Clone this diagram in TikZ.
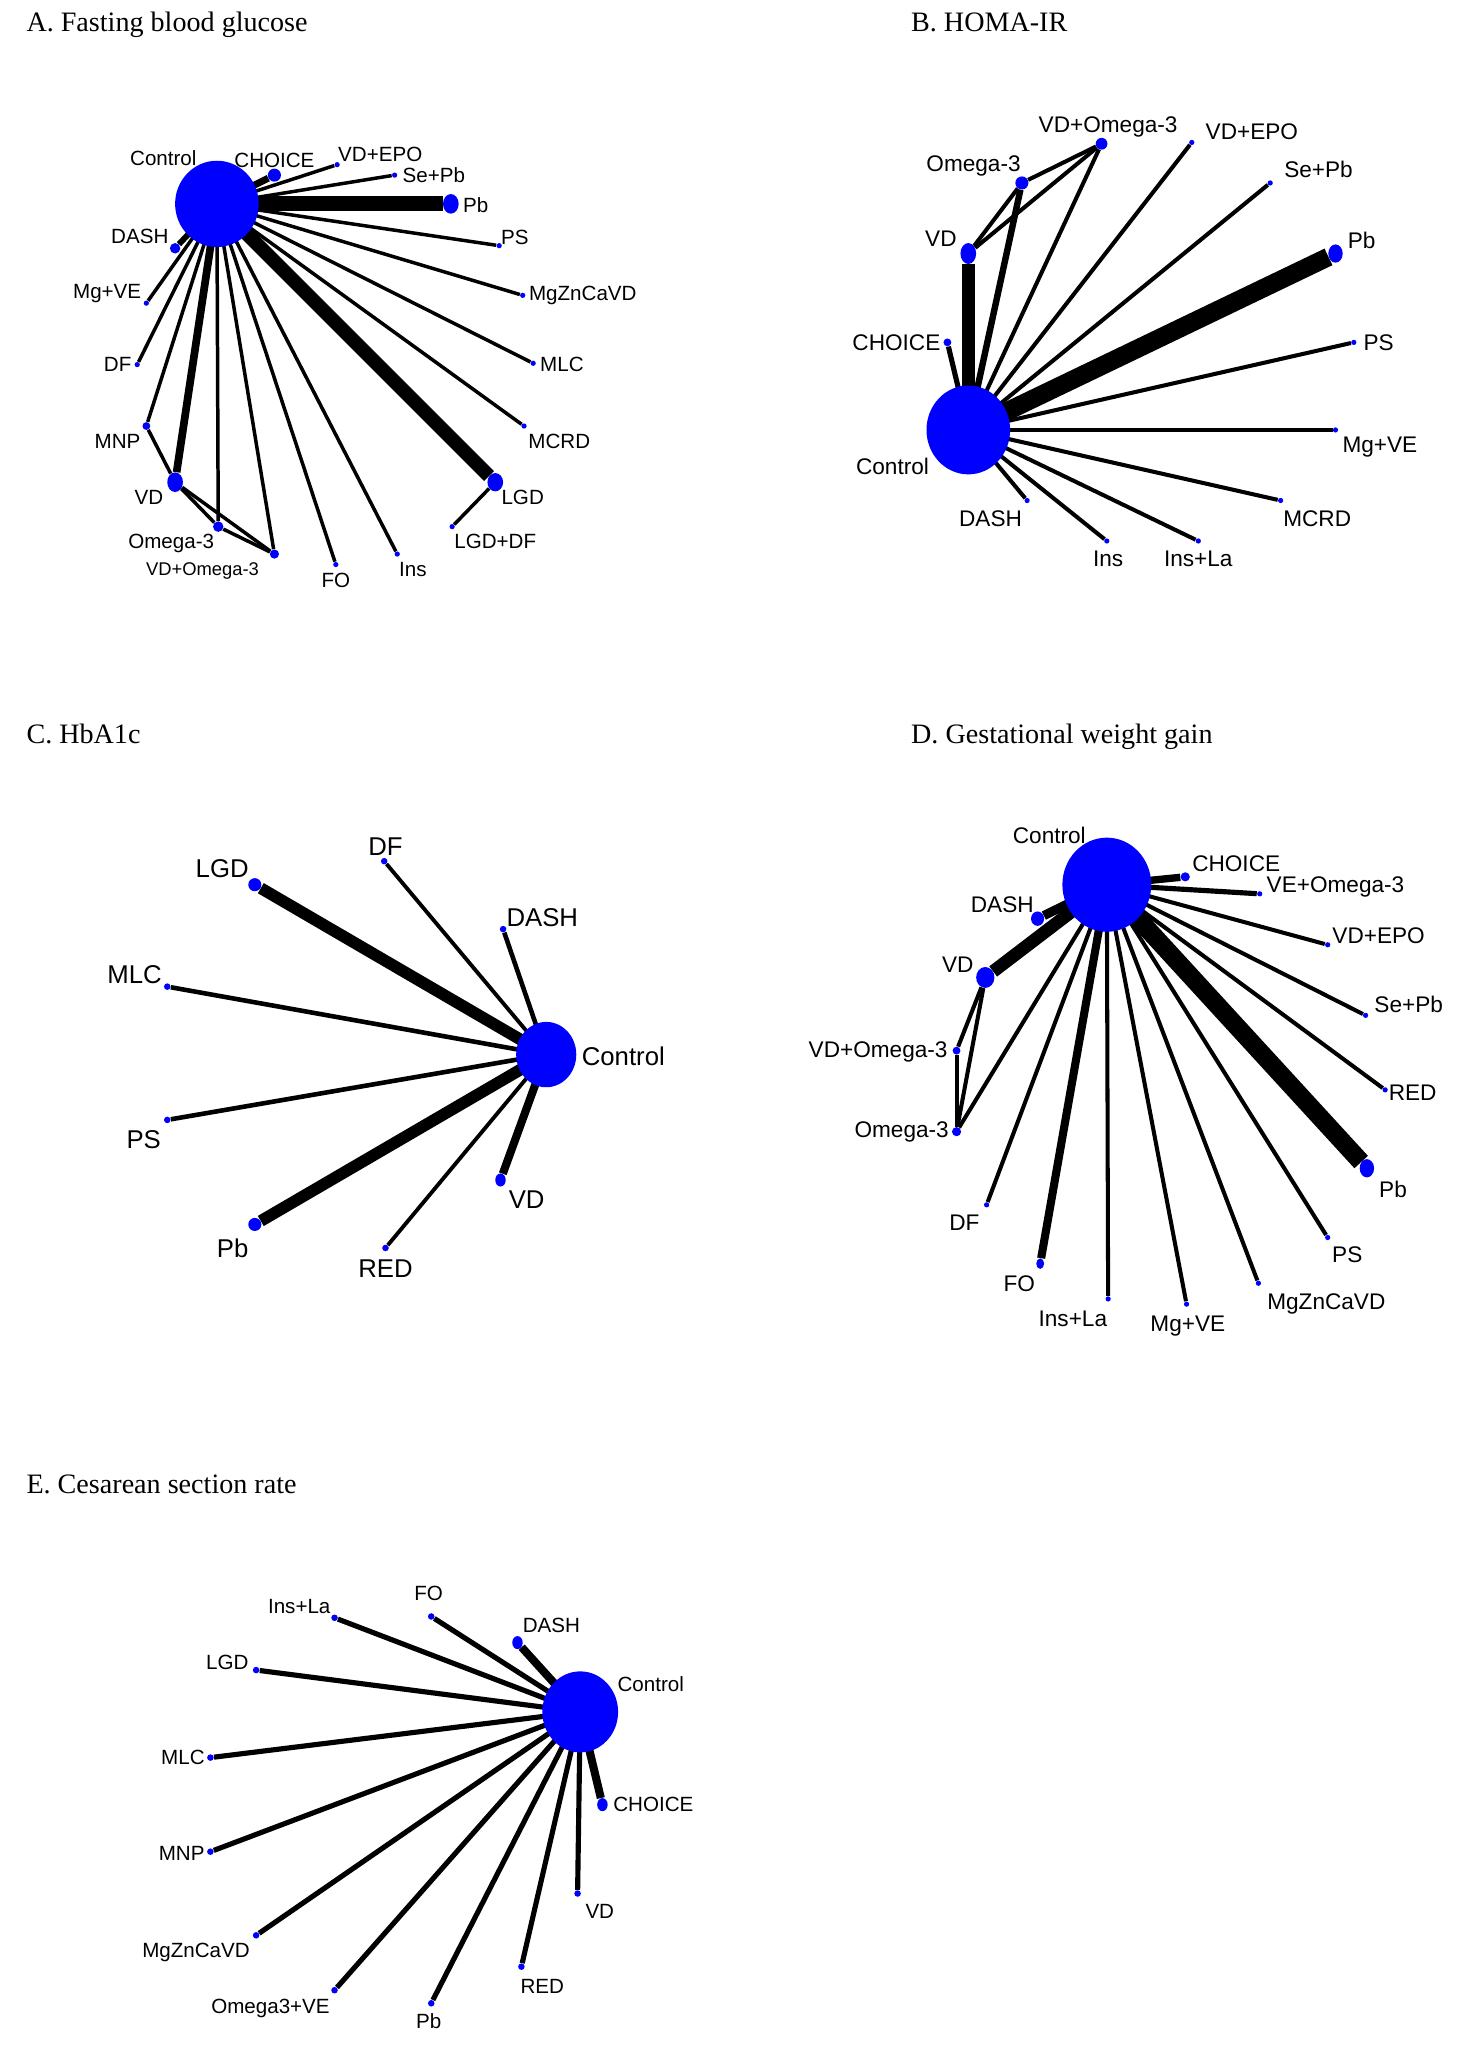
\documentclass[tikz,border=0pt]{standalone}
\usepackage{fontspec}
\setmainfont{Liberation Serif}
\newfontfamily\labfont{Liberation Sans}
\usetikzlibrary{shapes.geometric}
\definecolor{nb}{RGB}{0,0,255}
\tikzset{
  dot/.style={circle,fill=nb,draw=none,inner sep=0pt,minimum size=#1*0.025cm},
  big/.style 2 args={ellipse,fill=nb,draw=none,inner sep=0pt,minimum width=#1*0.025cm,minimum height=#2*0.025cm},
  ew/.style={line width=#1pt,draw=black},
  ttl/.style={font=\fontsize{15.3pt}{15.3pt}\selectfont,anchor=base west,inner sep=0pt},
  la/.style={font=\labfont\fontsize{11.2pt}{11.2pt}\selectfont,inner sep=0pt},
  lb/.style={font=\labfont\fontsize{12.3pt}{12.3pt}\selectfont,inner sep=0pt},
  lc/.style={font=\labfont\fontsize{14pt}{14pt}\selectfont,inner sep=0pt},
}
\begin{document}
\begin{tikzpicture}[x=0.025cm,y=-0.025cm]
\useasboundingbox (0,0) rectangle (1120,1568);
\fill[white] (0,0) rectangle (1120,1568);
% ---------------- Titles
\node[ttl] (tA) at (20,24) {A. Fasting blood glucose};
\node[ttl] (tB) at (697,24) {B. HOMA-IR};
\node[ttl] (tC) at (20,569) {C. HbA1c};
\node[ttl] (tD) at (697,569) {D. Gestational weight gain};
\node[ttl] (tE) at (20,1143) {E. Cesarean section rate};

% ================= Panel A
\coordinate (a0) at (166,156);
\node[dot=10] (a1) at (210,134) {};
\node[dot=4] (a2) at (258,126) {};
\node[dot=4] (a3) at (302,134) {};
\node[big={12}{15}] (a4) at (345,156) {};
\node[dot=4] (a5) at (382,188) {};
\node[dot=4] (a6) at (400,226) {};
\node[dot=4] (a7) at (408,278) {};
\node[dot=4] (a8) at (401,326) {};
\node[big={12}{14}] (a9) at (379,369) {};
\node[dot=4] (a10) at (346,403) {};
\node[dot=4] (a11) at (304,424) {};
\node[dot=4] (a12) at (257,432) {};
\node[dot=7] (a13) at (210,424) {};
\node[dot=8] (a14) at (167,403) {};
\node[big={12}{15}] (a15) at (134,369) {};
\node[dot=6] (a16) at (112,326) {};
\node[dot=4] (a17) at (105,279) {};
\node[dot=4] (a18) at (112,232) {};
\node[dot=8] (a19) at (134,190) {};
\draw[ew=3.8] (a0) -- (a1);
\draw[ew=1.9] (a0) -- (a2);
\draw[ew=1.9] (a0) -- (a3);
\draw[ew=8.2] (a0) -- (a4);
\draw[ew=1.9] (a0) -- (a5);
\draw[ew=1.9] (a0) -- (a6);
\draw[ew=1.9] (a0) -- (a7);
\draw[ew=1.9] (a0) -- (a8);
\draw[ew=7.6] (a0) -- (a9);
\draw[ew=1.9] (a9) -- (a10);
\draw[ew=1.9] (a0) -- (a11);
\draw[ew=1.9] (a0) -- (a12);
\draw[ew=1.9] (a0) -- (a13);
\draw[ew=1.9] (a0) -- (a14);
\draw[ew=4.2] (a0) -- (a15);
\draw[ew=1.9] (a0) -- (a16);
\draw[ew=1.9] (a16) -- (a15);
\draw[ew=1.9] (a15) -- (a14);
\draw[ew=1.9] (a15) -- (a13);
\draw[ew=1.9] (a14) -- (a13);
\draw[ew=1.9] (a0) -- (a17);
\draw[ew=1.9] (a0) -- (a18);
\draw[ew=3.2] (a0) -- (a19);
\node[big={64}{66}] (a0n) at (a0) {};
\node[la] (a0l) at (125,121) {Control};
\node[la] (a1l) at (210,123) {CHOICE};
\node[la] (a2l) at (291,118) {VD+EPO};
\node[la] (a3l) at (332,134) {Se+Pb};
\node[la] (a4l) at (364,157) {Pb};
\node[la] (a5l) at (394,182) {PS};
\node[la] (a6l) at (446,226) {MgZnCaVD};
\node[la] (a7l) at (430,279) {MLC};
\node[la] (a8l) at (428,338) {MCRD};
\node[la] (a9l) at (400,381) {LGD};
\node[la] (a10l) at (379,414) {LGD+DF};
\node[la] (a11l) at (316,436) {Ins};
\node[la] (a12l) at (257,444) {FO};
\node[la,font=\labfont\fontsize{10pt}{10pt}\selectfont] (a13l) at (155,437) {VD+Omega-3};
\node[la] (a14l) at (131,416) {Omega-3};
\node[la] (a15l) at (114,381) {VD};
\node[la] (a16l) at (90,338) {MNP};
\node[la] (a17l) at (90,279) {DF};
\node[la] (a18l) at (82,225) {Mg+VE};
\node[la] (a19l) at (107,181) {DASH};

% ================= Panel B
\coordinate (b0) at (741,329);
\node[big={12}{16}] (b1) at (741,194) {};
\node[dot=10] (b2) at (782,140) {};
\node[dot=9] (b3) at (843,110) {};
\node[dot=4] (b4) at (912,109) {};
\node[dot=4] (b5) at (972,140) {};
\node[big={11}{14}] (b6) at (1022,194) {};
\node[dot=6] (b7) at (725,262) {};
\node[dot=4] (b8) at (1036,262) {};
\node[dot=4] (b9) at (1022,329) {};
\node[dot=4] (b10) at (980,383) {};
\node[dot=4] (b11) at (917,414) {};
\node[dot=4] (b12) at (847,414) {};
\node[dot=4] (b13) at (786,383) {};
\draw[ew=7] (b0) -- (b1);
\draw[ew=3.5] (b0) -- (b2);
\draw[ew=2.2] (b0) -- (b3);
\draw[ew=2.2] (b1) -- (b2);
\draw[ew=2.2] (b1) -- (b3);
\draw[ew=2.2] (b2) -- (b3);
\draw[ew=2.2] (b0) -- (b4);
\draw[ew=2.2] (b0) -- (b5);
\draw[ew=10] (b0) -- (b6);
\draw[ew=2.8] (b0) -- (b7);
\draw[ew=2.2] (b0) -- (b8);
\draw[ew=2.2] (b0) -- (b9);
\draw[ew=2.2] (b0) -- (b10);
\draw[ew=2.2] (b0) -- (b11);
\draw[ew=2.2] (b0) -- (b12);
\draw[ew=2.2] (b0) -- (b13);
\node[big={64}{68}] (b0n) at (b0) {};
\node[lb] (b0l) at (683,357) {Control};
\node[lb] (b1l) at (720,183) {VD};
\node[lb] (b2l) at (745,127) {Omega-3};
\node[lb] (b3l) at (848,97) {VD+Omega-3};
\node[lb] (b4l) at (958,101) {VD+EPO};
\node[lb] (b5l) at (1009,130) {Se+Pb};
\node[lb] (b6l) at (1042,184) {Pb};
\node[lb] (b7l) at (686,262) {CHOICE};
\node[lb] (b8l) at (1055,262) {PS};
\node[lb] (b9l) at (1056,342) {Mg+VE};
\node[lb] (b10l) at (1008,397) {MCRD};
\node[lb] (b11l) at (917,428) {Ins+La};
\node[lb] (b12l) at (848,428) {Ins};
\node[lb] (b13l) at (758,397) {DASH};

% ================= Panel C
\coordinate (c0) at (418,807);
\node[dot=10] (c1) at (195,677) {};
\node[dot=5] (c2) at (294,659) {};
\node[dot=5] (c3) at (385,711) {};
\node[dot=5] (c4) at (128,755) {};
\node[dot=5] (c5) at (128,857) {};
\node[dot=10] (c6) at (195,937) {};
\node[dot=5] (c7) at (295,955) {};
\node[big={8}{10}] (c8) at (383,903) {};
\draw[ew=6.4] (c0) -- (c1);
\draw[ew=2.1] (c0) -- (c2);
\draw[ew=2.5] (c0) -- (c3);
\draw[ew=2.5] (c0) -- (c4);
\draw[ew=2.5] (c0) -- (c5);
\draw[ew=6.4] (c0) -- (c6);
\draw[ew=2.1] (c0) -- (c7);
\draw[ew=4.4] (c0) -- (c8);
\node[big={46}{50}] (c0n) at (c0) {};
\node[lc] (c0l) at (477,808) {Control};
\node[lc] (c1l) at (170,665) {LGD};
\node[lc] (c2l) at (295,648) {DF};
\node[lc] (c3l) at (415,702) {DASH};
\node[lc] (c4l) at (103,746) {MLC};
\node[lc] (c5l) at (110,872) {PS};
\node[lc] (c6l) at (178,955) {Pb};
\node[lc] (c7l) at (295,971) {RED};
\node[lc] (c8l) at (403,918) {VD};

% ================= Panel D
\coordinate (d0) at (847,677);
\node[dot=7] (d1) at (907,671) {};
\node[dot=4] (d2) at (964,684) {};
\node[dot=4] (d3) at (1016,723) {};
\node[dot=4] (d4) at (1045,777) {};
\node[dot=4] (d5) at (1060,834) {};
\node[big={11}{14}] (d6) at (1046,894) {};
\node[dot=4] (d7) at (1016,947) {};
\node[dot=4] (d8) at (963,982) {};
\node[dot=4] (d9) at (908,998) {};
\node[dot=4] (d10) at (848,994) {};
\node[big={6}{8}] (d11) at (796,967) {};
\node[dot=4] (d12) at (755,922) {};
\node[dot=7] (d13) at (732,866) {};
\node[dot=6] (d14) at (732,804) {};
\node[big={14}{16}] (d15) at (754,748) {};
\node[big={10}{11}] (d16) at (794,703) {};
\draw[ew=4] (d0) -- (d1);
\draw[ew=2.8] (d0) -- (d2);
\draw[ew=2.2] (d0) -- (d3);
\draw[ew=2.2] (d0) -- (d4);
\draw[ew=2.2] (d0) -- (d5);
\draw[ew=10] (d0) -- (d6);
\draw[ew=2.2] (d0) -- (d7);
\draw[ew=2.2] (d0) -- (d8);
\draw[ew=2.2] (d0) -- (d9);
\draw[ew=2.2] (d0) -- (d10);
\draw[ew=4.4] (d0) -- (d11);
\draw[ew=2.2] (d0) -- (d12);
\draw[ew=2.2] (d0) -- (d13);
\draw[ew=2.2] (d15) -- (d14);
\draw[ew=2.2] (d15) -- (d13);
\draw[ew=2.2] (d14) -- (d13);
\draw[ew=7] (d0) -- (d15);
\draw[ew=5] (d0) -- (d16);
\node[big={68}{72}] (d0n) at (d0) {};
\node[lb] (d0l) at (803,639) {Control};
\node[lb] (d1l) at (946,661) {CHOICE};
\node[lb] (d2l) at (1022,679) {VE+Omega-3};
\node[lb] (d3l) at (1055,716) {VD+EPO};
\node[lb] (d4l) at (1078,769) {Se+Pb};
\node[lb] (d5l) at (1081,836) {RED};
\node[lb] (d6l) at (1066,910) {Pb};
\node[lb] (d7l) at (1031,960) {PS};
\node[lb] (d8l) at (1015,998) {MgZnCaVD};
\node[lb] (d9l) at (909,1015) {Mg+VE};
\node[lb] (d10l) at (821,1009) {Ins+La};
\node[lb] (d11l) at (780,982) {FO};
\node[lb] (d12l) at (738,936) {DF};
\node[lb] (d13l) at (690,866) {Omega-3};
\node[lb] (d14l) at (672,805) {VD+Omega-3};
\node[lb] (d15l) at (733,738) {VD};
\node[lb] (d16l) at (767,692) {DASH};

% ================= Panel E
\coordinate (e0) at (444,1310);
\node[big={8}{10}] (e1) at (396,1257) {};
\node[dot=5] (e2) at (330,1237) {};
\node[dot=5] (e3) at (256,1238) {};
\node[dot=5] (e4) at (196,1278) {};
\node[dot=5] (e5) at (161,1345) {};
\node[dot=5] (e6) at (161,1417) {};
\node[dot=5] (e7) at (196,1481) {};
\node[dot=5] (e8) at (256,1523) {};
\node[dot=5] (e9) at (330,1533) {};
\node[dot=5] (e10) at (399,1505) {};
\node[dot=5] (e11) at (442,1449) {};
\node[big={8}{10}] (e12) at (461,1381) {};
\draw[ew=4.4] (e0) -- (e1);
\draw[ew=2.8] (e0) -- (e2);
\draw[ew=2.8] (e0) -- (e3);
\draw[ew=2.8] (e0) -- (e4);
\draw[ew=2.8] (e0) -- (e5);
\draw[ew=2.8] (e0) -- (e6);
\draw[ew=2.8] (e0) -- (e7);
\draw[ew=2.8] (e0) -- (e8);
\draw[ew=2.8] (e0) -- (e9);
\draw[ew=2.8] (e0) -- (e10);
\draw[ew=2.8] (e0) -- (e11);
\draw[ew=4.4] (e0) -- (e12);
\node[big={58}{62}] (e0n) at (e0) {};
\node[la] (e0l) at (498,1289) {Control};
\node[la] (e1l) at (422,1244) {DASH};
\node[la] (e2l) at (328,1219) {FO};
\node[la] (e3l) at (229,1229) {Ins+La};
\node[la] (e4l) at (174,1272) {LGD};
\node[la] (e5l) at (140,1345) {MLC};
\node[la] (e6l) at (139,1418) {MNP};
\node[la] (e7l) at (150,1494) {MgZnCaVD};
\node[la] (e8l) at (207,1537) {Omega3+VE};
\node[la] (e9l) at (328,1547) {Pb};
\node[la] (e10l) at (415,1520) {RED};
\node[la] (e11l) at (459,1463) {VD};
\node[la] (e12l) at (500,1381) {CHOICE};
\end{tikzpicture}
\end{document}
